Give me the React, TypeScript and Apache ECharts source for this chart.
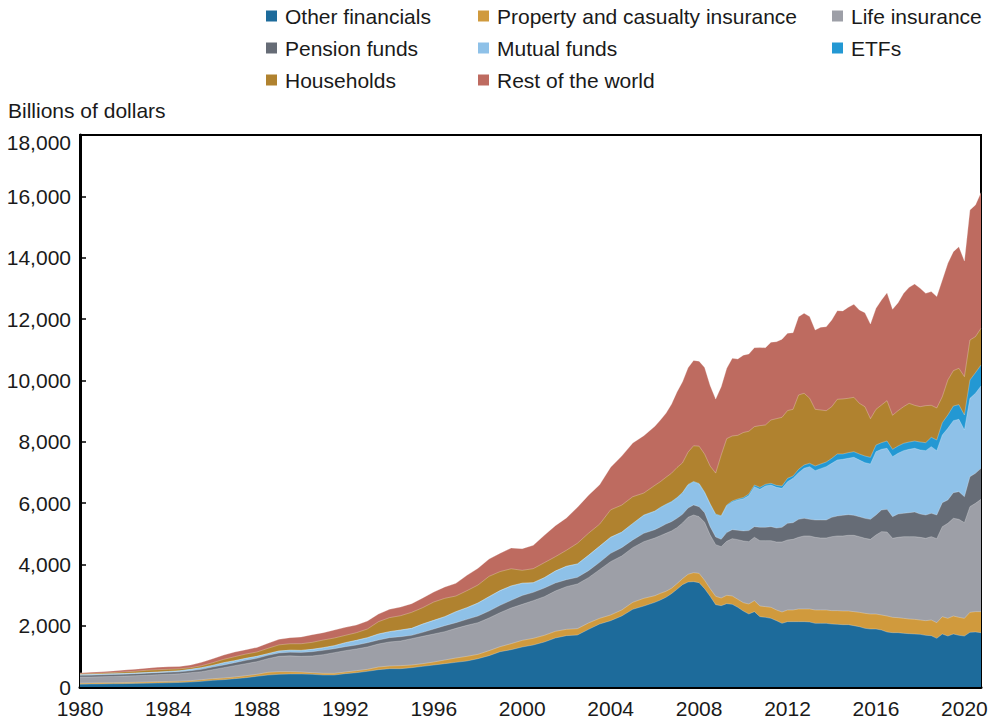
import React, { useEffect, useRef } from "react";
import * as echarts from "echarts";

const DATES = [
  "1980Q1","1980Q3","1981Q1","1981Q3","1982Q1","1982Q3","1983Q1","1983Q3","1984Q1","1984Q3",
  "1985Q1","1985Q3","1986Q1","1986Q3","1987Q1","1987Q3","1988Q1","1988Q3","1989Q1","1989Q3",
  "1990Q1","1990Q3","1991Q1","1991Q3","1992Q1","1992Q3","1993Q1","1993Q3","1994Q1","1994Q3",
  "1995Q1","1995Q3","1996Q1","1996Q3","1997Q1","1997Q3","1998Q1","1998Q3","1999Q1","1999Q3",
  "2000Q1","2000Q3","2001Q1","2001Q3","2002Q1","2002Q3","2003Q1","2003Q3","2004Q1","2004Q3",
  "2005Q1","2005Q3",
  "2006Q1","2006Q2","2006Q3","2006Q4","2007Q1","2007Q2","2007Q3","2007Q4","2008Q1","2008Q2",
  "2008Q3","2008Q4","2009Q1","2009Q2","2009Q3","2009Q4","2010Q1",
  "2010Q2","2010Q3","2010Q4","2011Q1","2011Q2","2011Q3","2011Q4","2012Q1","2012Q2","2012Q3",
  "2012Q4","2013Q1","2013Q2","2013Q3","2013Q4","2014Q1","2014Q2","2014Q3","2014Q4","2015Q1",
  "2015Q2","2015Q3","2015Q4","2016Q1","2016Q2","2016Q3","2016Q4","2017Q1","2017Q2","2017Q3",
  "2017Q4","2018Q1","2018Q2","2018Q3","2018Q4","2019Q1","2019Q2","2019Q3","2019Q4","2020Q1",
  "2020Q2","2020Q3","2020Q4"
];

const OTHER_FINANCIALS = [
  90, 95, 100, 105, 110, 118, 124, 130, 138, 148, 163, 185, 217, 239, 272, 304, 348, 391, 413, 424,
  424, 413, 391, 391, 435, 467, 511, 565, 598, 598, 630, 674, 717, 761, 804, 848, 924, 1022, 1152, 1217,
  1304, 1370, 1467, 1598, 1674, 1696, 1881, 2054, 2163, 2315, 2533, 2641,
  2761, 2837, 2924, 3044, 3185, 3337, 3424, 3435, 3402, 3207, 2957, 2685, 2652, 2718, 2696, 2598, 2478,
  2381, 2457, 2294, 2272, 2239, 2163, 2076, 2131, 2131, 2131, 2131, 2120, 2076, 2076, 2076, 2054, 2044,
  2033, 2033, 2000, 1967, 1913, 1891, 1891, 1859, 1794, 1772, 1772, 1750, 1739, 1728, 1717, 1685, 1674,
  1587, 1728, 1663, 1728, 1685, 1663, 1783, 1794, 1772
];
const PROPERTY_CASUALTY = [
  35, 35, 35, 35, 35, 35, 38, 43, 43, 43, 43, 54, 54, 54, 54, 65, 65, 87, 87, 76,
  65, 54, 54, 54, 54, 65, 65, 87, 87, 98, 87, 87, 98, 120, 141, 152, 141, 163, 163, 196,
  217, 217, 217, 217, 207, 207, 207, 185, 185, 196, 228, 250,
  217, 217, 196, 174, 185, 196, 250, 293, 304, 272, 250, 272, 250, 272, 272, 261, 272,
  326, 359, 348, 348, 359, 348, 370, 380, 380, 413, 413, 424, 435, 435, 435, 435, 446, 446, 446, 457,
  467, 489, 489, 489, 489, 522, 500, 489, 489, 478, 478, 467, 478, 511, 511, 565, 576, 587, 587, 576,
  652, 663, 685
];
const LIFE_INSURANCE = [
  200, 195, 200, 205, 210, 215, 220, 228, 234, 239, 261, 261, 293, 337, 370, 391, 413, 446, 500, 515,
  510, 544, 609, 674, 696, 707, 728, 750, 783, 804, 859, 891, 913, 924, 967, 1011, 1033, 1065, 1109, 1163,
  1174, 1228, 1261, 1315, 1391, 1457, 1478, 1587, 1739, 1761, 1783, 1848,
  1881, 1881, 1891, 1870, 1826, 1815, 1859, 1881, 1848, 1891, 1750, 1685, 1674, 1761, 1870, 1946, 2011,
  2033, 2065, 2131, 2152, 2174, 2217, 2283, 2283, 2304, 2337, 2381, 2381, 2370, 2348, 2348, 2413, 2435,
  2446, 2467, 2489, 2467, 2446, 2435, 2576, 2718, 2739, 2576, 2620, 2663, 2685, 2696, 2696, 2685, 2718,
  2739, 2935, 3098, 3185, 3196, 3120, 3446, 3533, 3663
];
const PENSION_FUNDS = [
  60, 62, 62, 62, 62, 65, 65, 65, 65, 65, 65, 76, 87, 87, 98, 109, 109, 109, 109, 120,
  130, 141, 141, 130, 130, 130, 141, 130, 141, 141, 109, 130, 163, 196, 185, 196, 217, 228, 240, 250,
  290, 272, 283, 261, 228, 217, 228, 239, 272, 272, 250, 272,
  272, 283, 304, 304, 304, 283, 304, 326, 326, 315, 272, 250, 239, 283, 293, 304, 330,
  360, 348, 435, 435, 457, 457, 478, 544, 544, 587, 576, 544, 565, 587, 587, 630, 652, 674, 674, 652,
  652, 652, 652, 652, 707, 739, 707, 761, 761, 783, 804, 761, 761, 761, 772, 783, 761, 837, 902, 848,
  978, 978, 1011
];
const MUTUAL_FUNDS = [
  15, 20, 25, 25, 22, 22, 22, 22, 27, 33, 43, 54, 54, 76, 65, 65, 65, 54, 65, 65,
  65, 76, 87, 98, 130, 152, 163, 196, 196, 217, 228, 272, 283, 293, 359, 380, 424, 467, 480, 470,
  400, 315, 337, 391, 435, 435, 500, 522, 522, 500, 533, 587,
  598, 630, 630, 641, 663, 696, 750, 750, 739, 652, 728, 728, 752, 877, 905, 987, 1047,
  1141, 1304, 1239, 1348, 1359, 1326, 1272, 1359, 1446, 1522, 1631, 1717, 1609, 1674, 1739, 1761, 1826,
  1826, 1837, 1891, 1848, 1815, 1804, 2065, 1978, 1989, 1957, 1978, 2044, 2065, 2076, 2087, 2098, 2174,
  2098, 2207, 2337, 2348, 2359, 2174, 2554, 2609, 2685
];
const ETFS = [
  0, 0, 0, 0, 0, 0, 0, 0, 0, 0, 0, 0, 0, 0, 0, 0, 0, 0, 0, 0,
  0, 0, 0, 0, 0, 0, 0, 0, 0, 0, 0, 0, 0, 0, 0, 0, 0, 0, 0, 0,
  0, 0, 0, 0, 2, 3, 4, 5, 6, 7, 8, 10,
  10, 11, 12, 13, 14, 15, 17, 18, 18, 18, 18, 18, 20, 25, 30, 35, 40,
  54, 54, 65, 54, 54, 65, 76, 109, 76, 109, 109, 109, 152, 152, 152, 163, 196, 174, 185, 185,
  196, 217, 217, 217, 217, 239, 239, 239, 239, 239, 239, 261, 261, 304, 348, 402, 435, 478, 478, 489,
  598, 674, 685
];
const HOUSEHOLDS = [
  30, 33, 33, 38, 54, 60, 76, 76, 71, 65, 54, 65, 87, 109, 130, 141, 141, 174, 200, 210,
  217, 228, 250, 250, 239, 250, 283, 402, 457, 467, 522, 533, 598, 598, 511, 554, 587, 663, 620, 560,
  420, 457, 489, 467, 522, 674, 717, 717, 891, 880, 870, 717,
  837, 837, 880, 924, 978, 967, 1054, 1163, 1217, 1239, 1228, 1337, 1978, 2163, 2120, 2076, 2120,
  2044, 1902, 2011, 1935, 2065, 2174, 2239, 2207, 2174, 2424, 2337, 2120, 1848, 1761, 1674, 1685, 1783,
  1794, 1772, 1772, 1652, 1609, 1261, 1163, 1228, 1315, 1109, 1152, 1196, 1261, 1163, 1152, 1207, 1044,
  1044, 848, 1141, 1152, 1185, 1250, 1304, 1174, 1196
];
const REST_OF_WORLD = [
  30, 40, 45, 55, 60, 65, 70, 80, 82, 76, 87, 109, 130, 141, 152, 141, 150, 165, 180, 200,
  220, 250, 239, 261, 261, 250, 261, 250, 272, 283, 283, 315, 326, 370, 413, 500, 544, 565, 598, 674,
  707, 761, 891, 1011, 1054, 1174, 1239, 1283, 1391, 1598, 1750, 1870,
  1924, 2011, 2087, 2250, 2467, 2641, 2750, 2783, 2772, 2826, 2631, 2413, 2228, 2294, 2533, 2489, 2522,
  2522, 2576, 2544, 2522, 2533, 2511, 2544, 2522, 2500, 2554, 2609, 2663, 2587, 2696, 2739, 2826, 2891,
  2870, 2968, 3033, 3044, 3065, 3087, 3294, 3424, 3522, 3457, 3522, 3696, 3783, 3957, 3859, 3663, 3707,
  3631, 3805, 3805, 3881, 3968, 3772, 4239, 4294, 4424
];

const SERIES_NAMES = [
  "Other financials",
  "Property and casualty insurance",
  "Life insurance",
  "Pension funds",
  "Mutual funds",
  "ETFs",
  "Households",
  "Rest of the world",
];
const SERIES_DATA = [
  OTHER_FINANCIALS, PROPERTY_CASUALTY, LIFE_INSURANCE, PENSION_FUNDS,
  MUTUAL_FUNDS, ETFS, HOUSEHOLDS, REST_OF_WORLD,
];
const COLORS = [
  "#1d6b9b", "#d09a3d", "#9d9fa7", "#666c76",
  "#8ec1e8", "#2398d3", "#b0822f", "#be6b60",
];

const LEGEND_COLUMNS = [
  ["Other financials", "Pension funds", "Households"],
  ["Property and casualty insurance", "Mutual funds", "Rest of the world"],
  ["Life insurance", "ETFs"],
];

function toYear(q: string): number {
  const y = parseInt(q.slice(0, 4), 10);
  const n = parseInt(q.slice(5), 10);
  return y + (n - 1) / 4;
}

export default function App() {
  const ref = useRef<HTMLDivElement>(null);
  useEffect(() => {
    document.body.style.margin = "0";
    if (!ref.current) return;
    const chart = echarts.init(ref.current, undefined, { renderer: "svg" });
    const font = "'Liberation Sans', Arial, sans-serif";
    const legendLefts = [266, 478, 832];

    // cumulative tops of each stacked layer (bottom layer first)
    const running = DATES.map(() => 0);
    const cumulative = SERIES_DATA.map((arr) =>
      arr.map((v, j) => {
        running[j] += v;
        return running[j];
      })
    );

    // draw the tallest layer first so lower layers paint over it
    const order = SERIES_NAMES.map((_, i) => i).reverse();

    const option: any = {
      animation: false,
      backgroundColor: "#ffffff",
      textStyle: { fontFamily: font },
      grid: {
        left: 80, right: 14, top: 135, bottom: 37,
        show: true, borderColor: "#000", borderWidth: 2, backgroundColor: "transparent",
      },
      legend: LEGEND_COLUMNS.map((col, i) => ({
        data: col.map((n) => ({ name: n, icon: "rect" })),
        orient: "vertical",
        left: legendLefts[i],
        top: 5,
        itemWidth: 11,
        itemHeight: 11,
        itemGap: 10,
        padding: 0,
        selectedMode: false,
        textStyle: { fontFamily: font, fontSize: 21, color: "#1a1a1a", lineHeight: 22, padding: [0, 0, 0, 3] },
      })),
      graphic: [
        {
          type: "text", left: 8, top: 100,
          style: { text: "Billions of dollars", fontFamily: font, fontSize: 21, fill: "#1a1a1a" },
        },
      ],
      xAxis: {
        type: "value",
        min: 1980,
        max: 2020.75,
        interval: 4,
        axisLine: { show: true, lineStyle: { color: "#000", width: 3 } },
        axisTick: { show: true, inside: true, length: 6, lineStyle: { color: "#000", width: 1.5 } },
        splitLine: { show: false },
        axisLabel: {
          fontFamily: font, fontSize: 21, color: "#1a1a1a", margin: 11,
          formatter: (v: number) => (Math.abs(v % 4) < 1e-9 ? String(v) : ""),
          showMaxLabel: false,
        },
      },
      yAxis: {
        type: "value",
        min: 0,
        max: 18000,
        interval: 2000,
        axisLine: { show: true, lineStyle: { color: "#000", width: 3 } },
        axisTick: { show: true, inside: true, length: 6, lineStyle: { color: "#000", width: 1.5 } },
        splitLine: { show: false },
        axisLabel: {
          fontFamily: font, fontSize: 21, color: "#1a1a1a", margin: 9,
          formatter: (v: number) =>
            v === 18000 ? "{top|" + v.toLocaleString("en-US") + "}" : v.toLocaleString("en-US"),
          rich: {
            top: { fontFamily: font, fontSize: 21, color: "#1a1a1a", padding: [14, 0, 0, 0] },
          },
        },
      },
      series: order.map((i) => ({
        type: "line",
        name: SERIES_NAMES[i],
        symbol: "none",
        showSymbol: false,
        data: DATES.map((d, j) => [toYear(d), cumulative[i][j]]),
        itemStyle: { color: COLORS[i] },
        lineStyle: { width: 0.6, color: "rgba(255,255,255,0.45)" },
        areaStyle: { color: COLORS[i], opacity: 1 },
        emphasis: { disabled: true },
      })),
    };
    chart.setOption(option);
    return () => chart.dispose();
  }, []);
  return <div ref={ref} style={{ width: 995, height: 724 }} />;
}
